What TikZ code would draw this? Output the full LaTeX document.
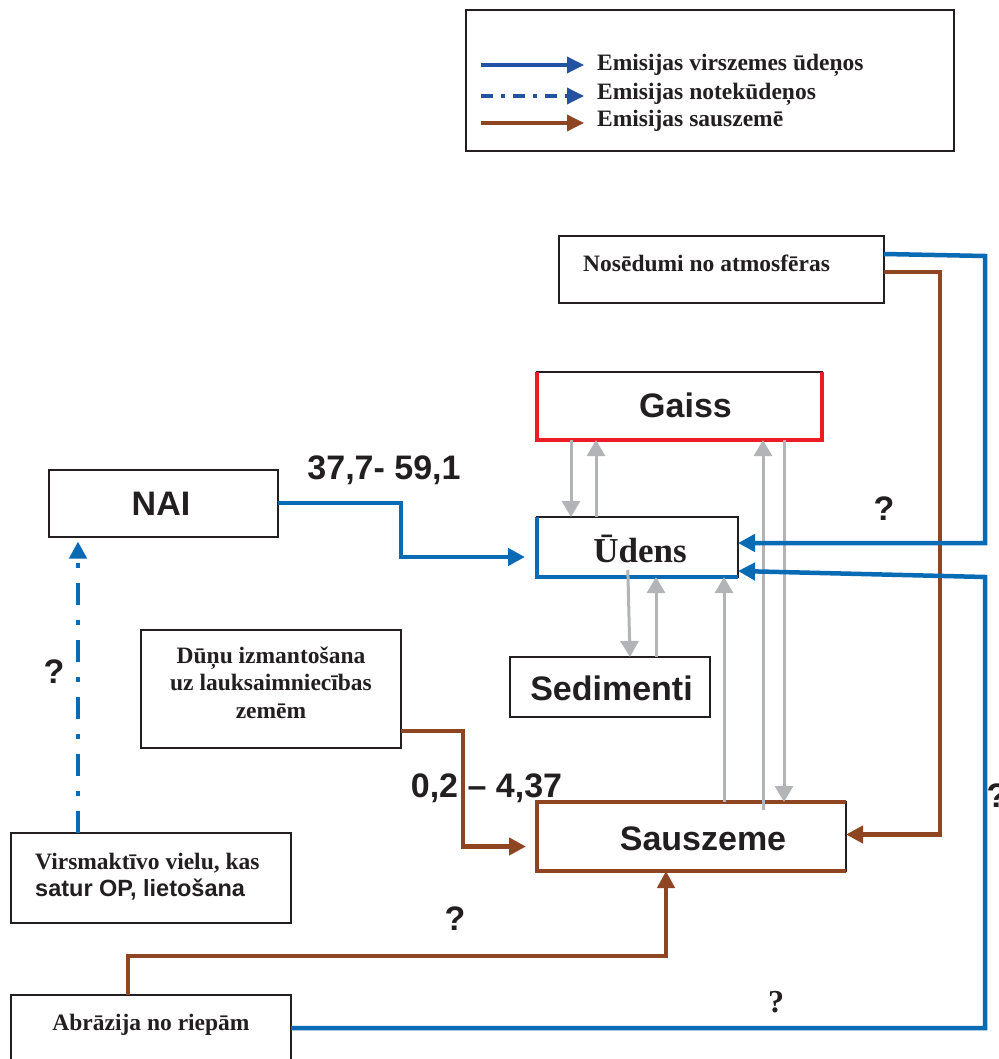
\documentclass[tikz,border=0pt]{standalone}
\usepackage{fontspec}
\setmainfont{Liberation Serif}
\setsansfont{Liberation Sans}
\usetikzlibrary{arrows.meta}

\definecolor{ink}{HTML}{231F20}
\definecolor{flowblue}{HTML}{0A6BB5}
\definecolor{legblue}{HTML}{2452A2}
\definecolor{flowbrown}{HTML}{8F4521}
\definecolor{flowgray}{HTML}{B2B4B7}
\definecolor{airred}{HTML}{ED1C24}

\tikzset{
  box/.style={draw=ink, line width=2pt, inner sep=0pt, outer sep=0pt},
  bigsans/.style={font=\sffamily\bfseries\fontsize{34}{40}\selectfont, text=ink, inner sep=0pt, anchor=base},
  qmark/.style={font=\sffamily\bfseries\fontsize{34}{40}\selectfont, text=ink, inner sep=0pt, anchor=base},
  smallserif/.style={font=\rmfamily\bfseries\fontsize{23.5}{28}\selectfont, text=ink, inner sep=0pt},
  smallsans/.style={font=\sffamily\bfseries\fontsize{23.5}{28}\selectfont, text=ink, inner sep=0pt},
  blueflow/.style={draw=flowblue, line width=4.5pt, -{Triangle[length=17pt,width=17pt]}},
  brownflow/.style={draw=flowbrown, line width=4.5pt, -{Triangle[length=17pt,width=17pt]}},
  dashflow/.style={draw=flowblue, line width=4.5pt, dash pattern=on 22pt off 15pt on 5pt off 15pt,
    -{Triangle[length=17pt,width=17pt]}},
  grayflow/.style={draw=flowgray, line width=3pt, -{Triangle[length=16pt,width=18pt]}},
  sideblue/.style={draw=flowblue, line width=4.5pt},
  sidebrown/.style={draw=flowbrown, line width=4.5pt},
  sidered/.style={draw=airred, line width=4.5pt},
}

\begin{document}
\begin{tikzpicture}[x=1pt, y=-1pt, line join=miter]
\useasboundingbox (0,0) rectangle (998,1059);
\fill[white] (0,0) rectangle (998,1059);

% ---------- legend ----------
\node[box] (legend) at (710,80.5) [minimum width=488pt, minimum height=141pt] {};
\coordinate (l1a) at (481,65);  \coordinate (l1b) at (584,65);
\coordinate (l2a) at (481,96);  \coordinate (l2b) at (584,96);
\coordinate (l3a) at (481,123); \coordinate (l3b) at (584,123);
\draw[draw=legblue, line width=3.5pt, -{Triangle[length=17pt,width=16pt]}] (l1a) -- (l1b);
\draw[draw=legblue, line width=3.5pt, dash pattern=on 12pt off 8pt on 4pt off 8pt,
      -{Triangle[length=17pt,width=16pt]}] (l2a) -- (l2b);
\draw[draw=flowbrown, line width=3.5pt, -{Triangle[length=17pt,width=16pt]}] (l3a) -- (l3b);
\node[smallserif, anchor=base west] at (597,71)  {Emisijas virszemes ūdeņos};
\node[smallserif, anchor=base west] at (597,100) {Emisijas notekūdeņos};
\node[smallserif, anchor=base west] at (597,127) {Emisijas sauszemē};

% ---------- boxes ----------
\node[box] (nos)   at (721.5,269.5) [minimum width=325pt, minimum height=67pt] {};
\node[box] (gaiss) at (679.5,406)   [minimum width=285pt, minimum height=68pt] {};
\node[box] (nai)   at (163,503)     [minimum width=229pt, minimum height=67pt] {};
\node[box] (udens) at (637.5,547)   [minimum width=201pt, minimum height=60pt] {};
\node[box] (sedim) at (610,687)     [minimum width=200pt, minimum height=60pt] {};
\node[box] (dunu)  at (271,689)     [minimum width=260pt, minimum height=118pt] {};
\node[box] (sausz) at (691.5,836.5) [minimum width=309pt, minimum height=69pt] {};
\node[box] (virs)  at (151,878)     [minimum width=280pt, minimum height=90pt] {};
\node[box] (abr)   at (151,1040)    [minimum width=280pt, minimum height=90pt] {};

% coloured sides of the compartment boxes
\draw[sidered]   (gaiss.north west) -- (gaiss.south west) -- (gaiss.south east) -- (gaiss.north east);
\draw[sideblue]  (udens.north west) -- (udens.south west) -- (udens.south east);
\draw[sidebrown] (sausz.north east) -- (sausz.north west) -- (sausz.south west) -- (sausz.south east);

% ---------- box texts ----------
\node[bigsans] at (685.5,417) {Gaiss};
\node[bigsans] at (161,515)   {NAI};
\node[font=\rmfamily\bfseries\fontsize{35}{40}\selectfont, text=ink, inner sep=0pt, anchor=base] at (640,562) {Ūdens};
\node[bigsans] at (611.5,700) {Sedimenti};
\node[bigsans] at (703,850)   {Sauszeme};
\node[smallserif, anchor=base west] at (583,271) {Nosēdumi no atmosfēras};
\node[smallserif, anchor=base] at (271,663) {Dūņu izmantošana};
\node[smallserif, anchor=base] at (271,690) {uz lauksaimniecības};
\node[smallserif, anchor=base] at (271,718) {zemēm};
\node[smallserif, anchor=base west] at (35,869) {Virsmaktīvo vielu, kas};
\node[smallsans,  anchor=base west] at (35,896) {satur OP, lietošana};
\node[smallserif, anchor=base] at (151,1030) {Abrāzija no riepām};

% ---------- exchange between compartments ----------
\draw[grayflow] (gaiss.south -| 571,0) -- (udens.north -| 571,0);
\draw[grayflow] (udens.north -| 596,0) -- (gaiss.south -| 596,0);
\draw[grayflow, shorten <=-7pt] (udens.south -| 628,0) -- (sedim.north -| 630,0);
\draw[grayflow] (sedim.north -| 656,0) -- (udens.south -| 656,0);
\draw[grayflow] (sausz.north -| 724,0) -- (udens.south -| 724,0);
\draw[grayflow, shorten <=-8pt] (sausz.north -| 763,0) -- (gaiss.south -| 763,0);
\draw[grayflow] (gaiss.south -| 784,0) -- (sausz.north -| 784,0);

% ---------- emission flows ----------
\draw[blueflow, shorten >=12pt] (nai.east) -- (401,503) |- ([yshift=-10pt]udens.west);
\draw[dashflow, shorten >=5pt] (virs.north -| 78,0) -- (nai.south -| 78,0);
\draw[brownflow, shorten >=11pt] (dunu.east |- 0,731) -- (463,731) |- ([yshift=-10pt]sausz.west);
\draw[brownflow] (nos.east |- 0,272) -- (940,272) |- ([yshift=2pt]sausz.east);
\draw[blueflow] (nos.east |- 0,254) -- (985,256) -- (985,543) -- ([yshift=4pt]udens.east);
\draw[blueflow] (abr.east |- 0,1028) -- (985,1028) -- (985,577) -- ([yshift=-24pt]udens.east);
\draw[brownflow] (abr.north -| 128,0) -- (128,956) -| (sausz.south -| 666,0);

% ---------- flow labels ----------
\node[bigsans] at (384,479) {37,7- 59,1};
\node[bigsans] at (486.5,797) {0,2 – 4,37};
\node[qmark] at (884,520) {?};
\node[qmark] at (54,683) {?};
\node[qmark] at (455,930) {?};
\node[font=\rmfamily\bfseries\fontsize{32}{36}\selectfont, text=ink, inner sep=0pt, anchor=base] at (776,1012) {?};
\node[qmark] at (997,807) {?};
\end{tikzpicture}
\end{document}
